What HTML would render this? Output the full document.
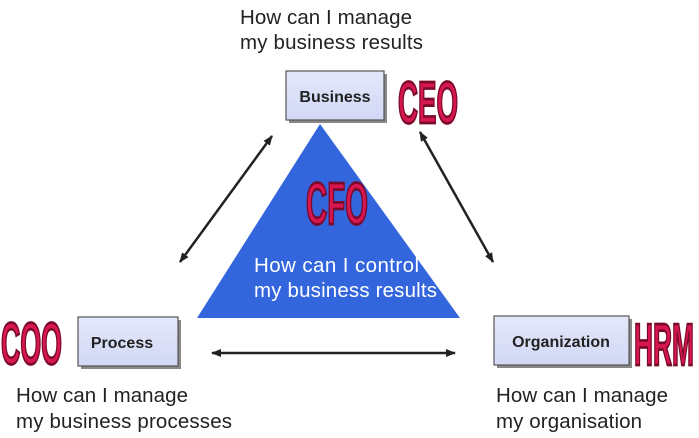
<!DOCTYPE html>
<html><head><style>
body{margin:0;background:#fff;}
svg{display:block;font-family:"Liberation Sans",sans-serif;}
</style></head><body>
<svg width="699" height="438" viewBox="0 0 699 438">
<defs>
<marker id="a" markerWidth="10" markerHeight="8" refX="9" refY="4" orient="auto-start-reverse" markerUnits="userSpaceOnUse">
<path d="M0,0 L10,4 L0,8 z" fill="#222"/></marker>
<linearGradient id="bx" x1="0" y1="0" x2="0" y2="1"><stop offset="0" stop-color="#e4e8fb"/><stop offset="1" stop-color="#d2d8f5"/></linearGradient>
</defs>
<g font-size="20.5" fill="#222">
<text x="240" y="24" textLength="172">How can I manage</text>
<text x="240" y="49" textLength="183">my business results</text>
</g>
<polygon points="320,124 197,318 460,318" fill="#3366dd"/>
<g font-size="20.5" fill="#fff">
<text x="254" y="272" textLength="165">How can I control</text>
<text x="254" y="297" textLength="183">my business results</text>
</g>
<g stroke="#222" stroke-width="2.5" fill="none">
<line x1="272" y1="136" x2="180" y2="262" marker-start="url(#a)" marker-end="url(#a)"/>
<line x1="420" y1="132" x2="493" y2="262" marker-start="url(#a)" marker-end="url(#a)"/>
<line x1="212" y1="353" x2="455" y2="353" marker-start="url(#a)" marker-end="url(#a)"/>
</g>
<g stroke="#555" stroke-width="1.2">
<rect x="289" y="74" width="98" height="49" fill="#888" stroke="none"/>
<rect x="286" y="71" width="98" height="49" fill="url(#bx)"/>
<rect x="81" y="320" width="100" height="49" fill="#888" stroke="none"/>
<rect x="78" y="317" width="100" height="49" fill="url(#bx)"/>
<rect x="497" y="319" width="135" height="49" fill="#888" stroke="none"/>
<rect x="494" y="316" width="135" height="49" fill="url(#bx)"/>
</g>
<g font-weight="bold" font-size="16" fill="#222" text-anchor="middle">
<text x="335" y="102">Business</text>
<text x="122" y="348">Process</text>
<text x="561" y="347">Organization</text>
</g>
<g font-weight="bold" fill="#d8164f" stroke="#7a0a2a" stroke-width="1.5" >
<text transform="translate(398,123) scale(1,1.75)" font-size="34" textLength="60" lengthAdjust="spacingAndGlyphs">CEO</text>
<text transform="translate(306,224) scale(1,1.75)" font-size="34" textLength="62" lengthAdjust="spacingAndGlyphs">CFO</text>
<text transform="translate(1,364) scale(1,1.75)" font-size="34" textLength="61" lengthAdjust="spacingAndGlyphs">COO</text>
<text transform="translate(634,365) scale(1,1.75)" font-size="34" textLength="60" lengthAdjust="spacingAndGlyphs">HRM</text>
</g>
<g font-size="20.5" fill="#222">
<text x="16" y="402" textLength="172">How can I manage</text>
<text x="16" y="428" textLength="216">my business processes</text>
<text x="496" y="402" textLength="172">How can I manage</text>
<text x="496" y="428" textLength="146">my organisation</text>
</g>
</svg>
</body></html>
